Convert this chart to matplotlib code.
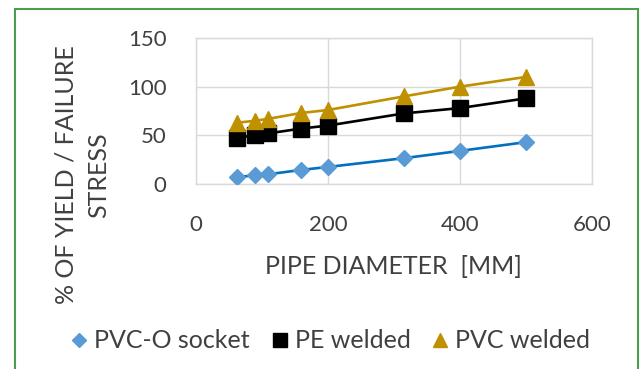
import matplotlib.pyplot as plt
from matplotlib.lines import Line2D
from matplotlib.patches import Rectangle

# datos
diametro = [63, 90, 110, 160, 200, 315, 400, 500]
pvco_socket = [7, 9, 10, 14.5, 17.5, 26.5, 34, 43]
pe_welded = [47.5, 50, 52, 57, 60, 72.5, 78, 88]
pvc_welded = [63, 65, 67, 73, 76, 90, 100, 110]

plt.rcParams['font.family'] = ['Lato', 'DejaVu Sans']
texto = '#404040'

fig = plt.figure(figsize=(6.4, 3.69), dpi=100)
ax = fig.add_axes([0.306, 0.5014, 0.619, 0.3956])

# borde verde alrededor del grafico
fig.patches.append(Rectangle((15 / 640, -0.1), 623 / 640, 1 - 9 / 369 + 0.1,
                             transform=fig.transFigure, fill=False,
                             edgecolor='#4e9a4e', linewidth=1.5))

ax.plot(diametro, pvco_socket, color='#0070C0', linewidth=1.9,
        marker='D', markersize=8.5, markerfacecolor='#5B9BD5',
        markeredgecolor='#5B9BD5', zorder=3)
ax.plot(diametro, pe_welded, color='black', linewidth=1.9,
        marker='s', markersize=11, markerfacecolor='black',
        markeredgecolor='black', zorder=4)
ax.plot(diametro, pvc_welded, color='#BF9000', linewidth=1.9,
        marker='^', markersize=11, markerfacecolor='#BF9000',
        markeredgecolor='#BF9000', zorder=5)

ax.set_xlim(0, 600)
ax.set_ylim(0, 150)
ax.set_xticks([0, 200, 400, 600])
ax.set_yticks([0, 50, 100, 150])
ax.grid(True, color='#d9d9d9', linewidth=1)
ax.set_axisbelow(True)
for s in ax.spines.values():
    s.set_color('#d9d9d9')
    s.set_linewidth(1)
ax.tick_params(length=0, labelsize=16, labelcolor=texto)
ax.tick_params(axis='x', pad=22)
ax.tick_params(axis='y', pad=21)

# titulos de los ejes
fig.text(393.5 / 640, 1 - 267 / 369, 'PIPE DIAMETER  [MM]', fontsize=18,
         color=texto, ha='center', va='center')
fig.text(82 / 640, 1 - 175 / 369, '% OF YIELD / FAILURE\nSTRESS', fontsize=18,
         color=texto, ha='center', va='center', rotation=90,
         multialignment='center', linespacing=1.5)

handles = [
    Line2D([], [], linestyle='none', marker='D', markersize=7,
           color='#5B9BD5', label='PVC-O socket'),
    Line2D([], [], linestyle='none', marker='s', markersize=10,
           color='black', label='PE welded'),
    Line2D([], [], linestyle='none', marker='^', markersize=10,
           color='#BF9000', label='PVC welded'),
]
fig.legend(handles=handles, loc='center', bbox_to_anchor=(0.517, 0.076),
           ncol=3, frameon=False, fontsize=18, labelcolor=texto,
           handlelength=0.6, handletextpad=0.3, columnspacing=0.9)

fig.savefig('out.png', dpi=100)
